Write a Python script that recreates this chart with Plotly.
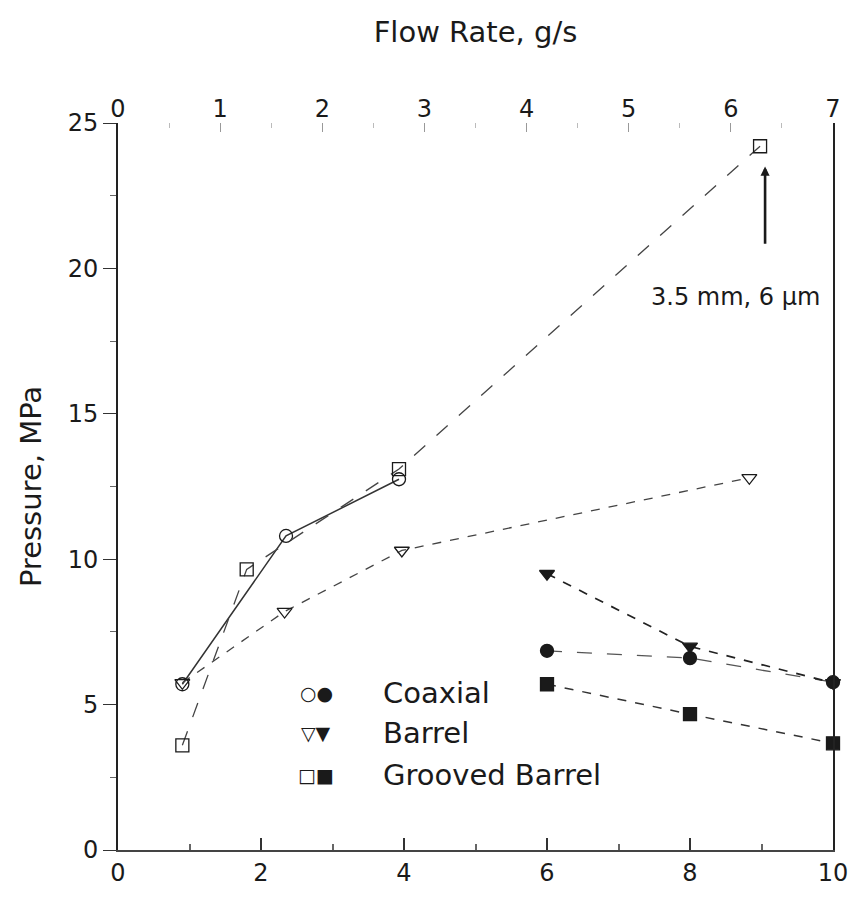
import plotly.graph_objects as go

# ---- data ----
coax_open_x = [0.9, 2.35, 3.93]
coax_open_y = [5.7, 10.8, 12.75]
barrel_open_x = [0.9, 2.33, 3.97, 8.83]
barrel_open_y = [5.75, 8.2, 10.3, 12.8]
groove_open_x = [0.9, 1.8, 3.93, 8.98]
groove_open_y = [3.6, 9.65, 13.1, 24.2]

coax_fill_x = [6.0, 8.0, 10.0]
coax_fill_y = [6.85, 6.6, 5.77]
barrel_fill_x = [6.0, 8.0, 10.0]
barrel_fill_y = [9.5, 7.0, 5.75]
groove_fill_x = [6.0, 8.0, 10.0]
groove_fill_y = [5.7, 4.67, 3.67]

top_ticks = [0, 1, 2, 3, 4, 5, 6, 7]
legend_labels = ["Coaxial", "Barrel", "Grooved Barrel"]
legend_symbols = ["○●", "▽▼", "□■"]
legend_rows_y = [5.4, 4.02, 2.58]

FONT = "DejaVu Sans, sans-serif"
INK = "#1a1a1a"

fig = go.Figure()

def add(x, y, symbol, dash, width=1.3, color="#333333"):
    fig.add_trace(go.Scatter(
        x=x, y=y, mode="lines+markers",
        line=dict(color=color, width=width, dash=dash),
        marker=dict(symbol=symbol, size=13, color=INK,
                    line=dict(color=INK, width=1.3)),
        cliponaxis=False, showlegend=False))

add(coax_open_x, coax_open_y, "circle-open", "solid", 1.5, "#333333")
add(barrel_open_x, barrel_open_y, "triangle-down-open", "dash", 1.3, "#444444")
add(groove_open_x, groove_open_y, "square-open", "longdash", 1.3, "#444444")
add(coax_fill_x, coax_fill_y, "circle", "longdash", 1.3, "#555555")
add(barrel_fill_x, barrel_fill_y, "triangle-down", "dash", 1.7, "#222222")
add(groove_fill_x, groove_fill_y, "square", "dash", 1.5, "#333333")

# invisible trace to drive the top axis
fig.add_trace(go.Scatter(x=[top_ticks[0], top_ticks[-1]], y=[None, None],
                         xaxis="x2", yaxis="y", mode="markers",
                         showlegend=False, hoverinfo="skip"))

# legend built from text
for sym, lab, yv in zip(legend_symbols, legend_labels, legend_rows_y):
    fig.add_annotation(x=2.77, y=yv, xref="x", yref="y", text=sym,
                       showarrow=False, font=dict(family="DejaVu Sans", size=19, color=INK))
    fig.add_annotation(x=3.68, y=yv, xref="x", yref="y", text=lab, xanchor="left",
                       showarrow=False, font=dict(family=FONT, size=29, color=INK))

# note with arrow
fig.add_annotation(x=8.63, y=19.0, xref="x", yref="y", text="3.5 mm, 6 µm",
                   showarrow=False, font=dict(family=FONT, size=24, color=INK))
fig.add_annotation(x=9.05, y=23.5, ax=9.05, ay=20.8, xref="x", yref="y",
                   axref="x", ayref="y", text="", showarrow=True,
                   arrowhead=2, arrowsize=0.7, arrowwidth=2.6, arrowcolor=INK)

fig.update_layout(
    width=852, height=894,
    margin=dict(l=110, r=24, t=115, b=52),
    paper_bgcolor="white", plot_bgcolor="white",
    font=dict(family=FONT, size=24, color=INK),
    xaxis=dict(range=[0, 10], dtick=2, tick0=0, showgrid=False, zeroline=False,
               showline=True, linecolor="#444444", linewidth=1.5,
               ticks="inside", ticklen=12, tickwidth=1.5, tickcolor="#333333",
               minor=dict(ticks="inside", dtick=1, ticklen=6, tickcolor="#666666"),
               tickfont=dict(size=24)),
    xaxis2=dict(range=[0, 7], dtick=1, tick0=0, overlaying="x", side="top",
                anchor="y", showgrid=False, zeroline=False, showline=False,
                ticks="inside", ticklen=9, tickwidth=1, tickcolor="#999999",
                minor=dict(ticks="inside", dtick=0.5, ticklen=5, tickcolor="#bbbbbb"),
                tickfont=dict(size=24),
                title=dict(text="Flow Rate, g/s", font=dict(size=29), standoff=44)),
    yaxis=dict(range=[0, 25], dtick=5, tick0=0, showgrid=False, zeroline=False,
               showline=True, linecolor="#222222", linewidth=2, mirror=True,
               ticks="outside", ticklen=13, tickwidth=1.3, tickcolor="#333333",
               minor=dict(ticks="outside", dtick=2.5, ticklen=6, tickcolor="#666666"),
               tickfont=dict(size=24),
               title=dict(text="Pressure, MPa", font=dict(size=29), standoff=18)),
)

fig.write_html("out.html")
